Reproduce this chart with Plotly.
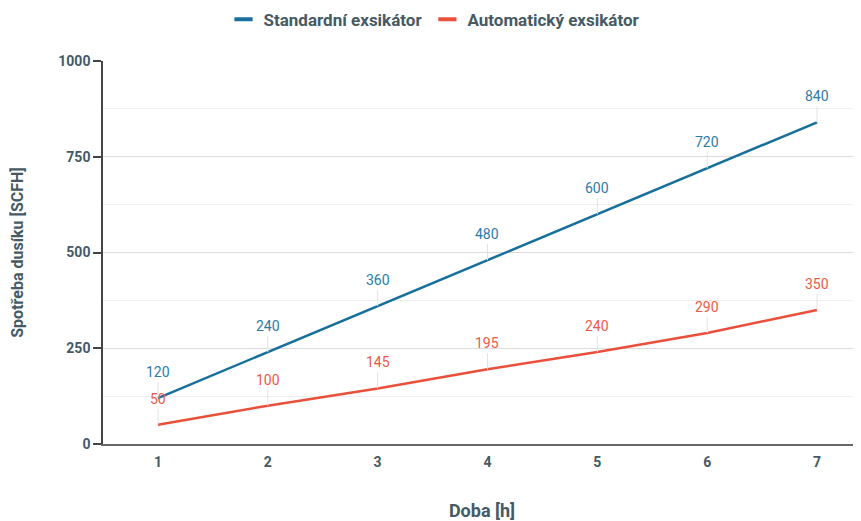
import plotly.graph_objects as go

hours = [1, 2, 3, 4, 5, 6, 7]
standard = [120, 240, 360, 480, 600, 720, 840]
automatic = [50, 100, 145, 195, 240, 290, 350]
series_names = ["Standardní exsikátor", "Automatický exsikátor"]
y_ticks = [0, 250, 500, 750, 1000]

BLUE = "#17709c"
RED = "#ea4f3b"
BLUE_LBL = "#2a7ca8"
RED_LBL = "#ec5a47"
TXT = "#455a64"
FONT = "Roboto"

fig = go.Figure()
for vals, name, col in [(standard, series_names[0], BLUE), (automatic, series_names[1], RED)]:
    fig.add_trace(go.Scatter(x=hours, y=vals, mode="lines", name=name,
                             line=dict(color=col, width=2.5), showlegend=False,
                             hoverinfo="x+y"))
    fig.add_trace(go.Scatter(x=[None], y=[None], mode="markers", name=name,
                             marker=dict(symbol="line-ew", size=13,
                                         line=dict(color=col, width=4)),
                             showlegend=True))

annotations = []
for vals, col in [(standard, BLUE_LBL), (automatic, RED_LBL)]:
    for x, v in zip(hours, vals):
        annotations.append(dict(x=x, y=v, xref="x", yref="y", text=str(v),
                                showarrow=True, arrowhead=0, arrowwidth=1,
                                arrowcolor="#e3e3e3", ax=0, ay=-16,
                                yanchor="bottom",
                                font=dict(family=FONT, size=14, color=col)))

fig.update_layout(
    width=853, height=513,
    margin=dict(l=95, r=0, t=53, b=77, autoexpand=False),
    plot_bgcolor="white", paper_bgcolor="white",
    font=dict(family=FONT, color=TXT),
    showlegend=True,
    legend=dict(orientation="h", x=0.5, xanchor="center", xref="container",
                y=0.977, yanchor="middle", yref="container",
                font=dict(family=FONT, size=17, color=TXT, weight="bold"),
                itemwidth=30, bgcolor="rgba(0,0,0,0)"),
    annotations=annotations,
    xaxis=dict(range=[0.5, 7.4], tickmode="array", tickvals=hours,
               ticktext=[str(h) for h in hours], showgrid=False, zeroline=False,
               showline=True, linecolor="#666", linewidth=1.5, ticks="",
               automargin=False, ticklabelstandoff=4,
               tickfont=dict(family=FONT, size=14, color=TXT, weight="bold"),
               title=dict(text="Doba [h]", standoff=38,
                          font=dict(family=FONT, size=18, color=TXT, weight="bold"))),
    yaxis=dict(range=[0, 1000], tickmode="array", tickvals=y_ticks,
               showgrid=True, gridcolor="#dcdcdc", gridwidth=1,
               minor=dict(dtick=125, showgrid=True, gridcolor="#efefef", gridwidth=1),
               zeroline=False, showline=True, linecolor="#444", linewidth=1.5,
               ticks="outside", ticklen=8, tickcolor="#444", tickwidth=1.5,
               automargin=False,
               tickfont=dict(family=FONT, size=14, color=TXT, weight="bold"),
               title=dict(text="Spotřeba dusíku [SCFH]", standoff=36,
                          font=dict(family=FONT, size=16, color=TXT, weight="bold"))),
)

fig.write_html("out.html")
